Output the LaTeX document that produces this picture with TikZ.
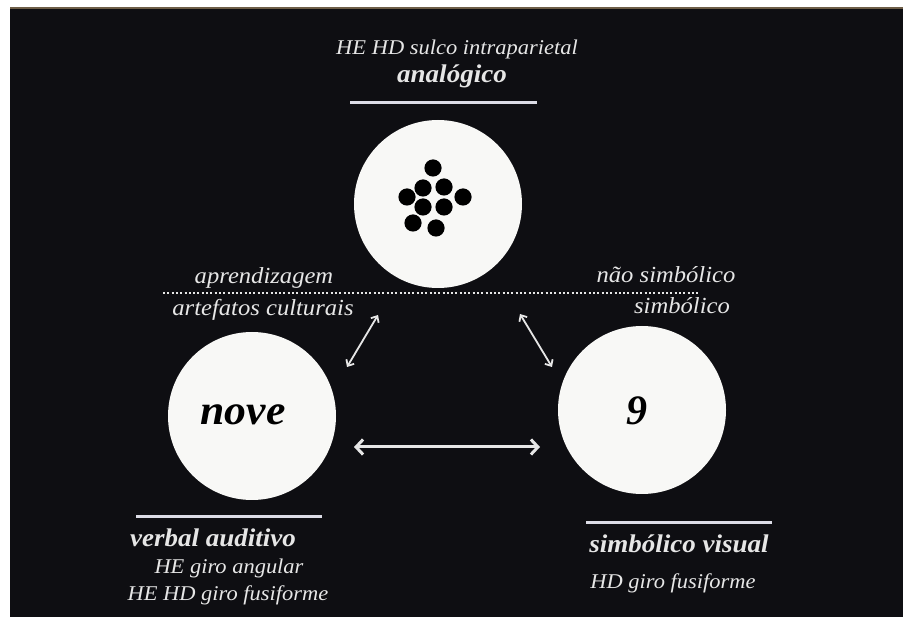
\documentclass[tikz,border=0pt]{standalone}
\usepackage{fontspec}
\setmainfont{Liberation Serif}
\usetikzlibrary{arrows.meta}
\definecolor{bg}{HTML}{0E0E12}
\definecolor{txt}{HTML}{E6E6E6}
\definecolor{rule}{HTML}{DCDCE6}
\definecolor{disc}{HTML}{F8F8F6}
\definecolor{topedge}{HTML}{6E5E48}
\newcommand{\wx}[1]{\scalebox{1.07}[1]{#1}}
\newcommand{\wt}[1]{\scalebox{1.06}[1]{#1}}
\tikzset{
  lab/.style={text=txt, anchor=base, inner sep=0pt, font=\fontsize{21}{25}\selectfont\itshape},
  labmid/.style={text=txt, anchor=base, inner sep=0pt, font=\fontsize{23}{27}\selectfont\itshape},
  title/.style={text=txt, anchor=base, inner sep=0pt, font=\fontsize{25.5}{29}\selectfont\bfseries\itshape},
  disk/.style={circle, fill=disc, minimum size=168pt, inner sep=0pt},
  big/.style={text=black, anchor=base, inner sep=0pt, font=\fontsize{42}{46}\selectfont\bfseries\itshape},
  bar/.style={rule, line width=3pt},
  dot/.style={fill=black},
  thinarrow/.style={txt, line width=1.8pt, {Straight Barb[length=5pt,width=9pt]}-{Straight Barb[length=5pt,width=9pt]}},
  thickarrow/.style={txt, line width=3pt, {Straight Barb[length=7pt,width=15pt]}-{Straight Barb[length=7pt,width=15pt]}}
}
\begin{document}
\begin{tikzpicture}[x=1pt, y=-1pt]
\useasboundingbox (0,0) rectangle (903,617);
\fill[white] (0,0) rectangle (903,617);
\fill[bg] (10,7) rectangle (903,617);
\draw[topedge, line width=1.5pt] (10,8) -- (903,8);

% circles
\node[disk] (top) at (438,204) {};
\node[disk] (left) at (252,416) {};
\node[disk] (right) at (642,410) {};

% dots
\foreach \px/\py in {433/168, 423/188, 444/187, 407/197, 463/197, 423/207, 444/207, 413/223, 436/228}
  \fill[dot] (\px,\py) circle (8.6pt);

% top labels
\node[lab] (t1) at (457,55) {\wx{HE HD sulco intraparietal}};
\node[title] (t2) at (452,83) {\wt{analógico}};
\draw[bar] (350,103) -- (537,103);

% dotted line and its labels
\draw[txt, line width=2.5pt, dash pattern=on 2pt off 2.3pt] (163,293) -- (700,293);
\node[labmid] (ap) at (264,284) {\wx{aprendizagem}};
\node[labmid] (ns) at (666,283) {\wx{não simbólico}};
\node[labmid] (ac) at (263,316) {\wx{artefatos culturais}};
\node[labmid] (si) at (682,314) {\wx{simbólico}};

% words in circles
\node[big] (nove) at (243,425) {\scalebox{1.04}[1]{nove}};
\node[big] (nine) at (637,425) {9};

% arrows
\coordinate (la1) at (378,315);
\coordinate (la2) at (347,367);
\coordinate (ra1) at (520,314);
\coordinate (ra2) at (552,367);
\coordinate (ha1) at (354,447);
\coordinate (ha2) at (540,447);
\draw[thinarrow] (la1) -- (la2);
\draw[thinarrow] (ra1) -- (ra2);
\draw[thickarrow] (ha1) -- (ha2);

% bottom left
\draw[bar] (136,517) -- (322,517);
\node[title] (va) at (213,547) {\wt{verbal auditivo}};
\node[lab] (ga) at (229,573) {\wx{HE giro angular}};
\node[lab] (gf) at (228,600) {\wx{HE HD giro fusiforme}};

% bottom right
\draw[bar] (586,523) -- (772,523);
\node[title] (sv) at (679,553) {\wt{simbólico visual}};
\node[lab] (hd) at (673,588) {\wx{HD giro fusiforme}};
\end{tikzpicture}
\end{document}
